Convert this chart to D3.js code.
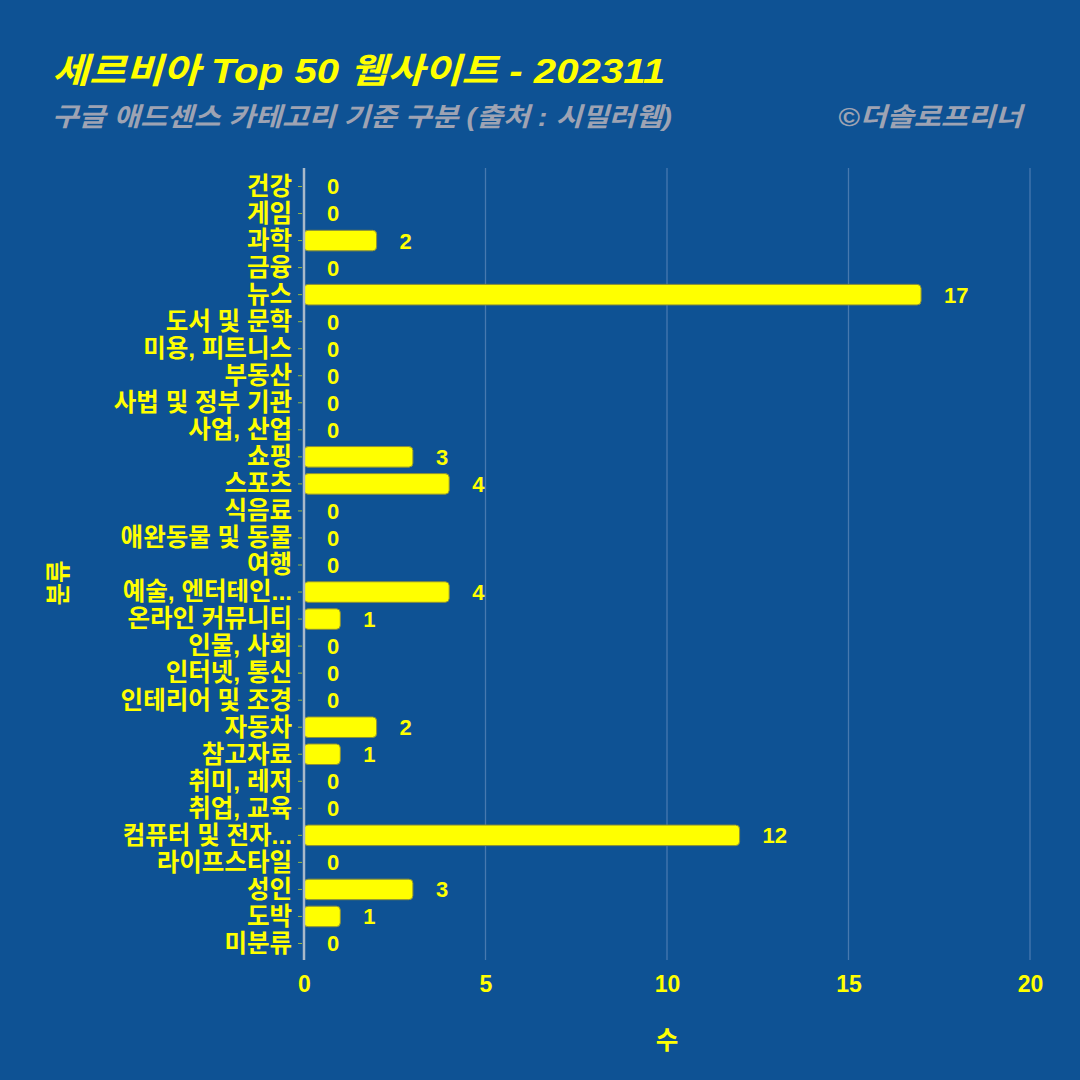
<!DOCTYPE html>
<html><head><meta charset="utf-8">
<script src="https://cdn.jsdelivr.net/npm/d3@7"></script>
<style>
html,body{margin:0;padding:0;background:#0e5294;}
svg{display:block;}
text{font-family:"Liberation Sans","Noto Sans CJK KR",sans-serif;}
</style></head>
<body>
<svg id="c" width="1080" height="1080"></svg>
<script>
const categories = ["건강","게임","과학","금융","뉴스","도서 및 문학","미용, 피트니스","부동산","사법 및 정부 기관","사업, 산업","쇼핑","스포츠","식음료","애완동물 및 동물","여행","예술, 엔터테인...","온라인 커뮤니티","인물, 사회","인터넷, 통신","인테리어 및 조경","자동차","참고자료","취미, 레저","취업, 교육","컴퓨터 및 전자...","라이프스타일","성인","도박","미분류"];
const values = [0,0,2,0,17,0,0,0,0,0,3,4,0,0,0,4,1,0,0,0,2,1,0,0,12,0,3,1,0];
const xTicks = [0,5,10,15,20];
const titleText = "세르비아 Top 50 웹사이트 - 202311";
const subtitleText = "구글 애드센스 카테고리 기준 구분 (출처 : 시밀러웹)";
const creditText = "©더솔로프리너";
const xTitle = "수";
const yTitle = "분류";

(function(){
const svg = d3.select("#c");
const W = 1080, H = 1080;
const YEL = "#ffff00";
svg.append("rect").attr("width",W).attr("height",H).attr("fill","#0e5294");

const pL = 304, pR = 1030, pT = 173, pB = 957;
const x = d3.scaleLinear().domain([0,20]).range([pL,pR]);
const y = d3.scaleBand().domain(categories).range([pT,pB]).paddingInner(0.24).paddingOuter(0.12);

// grid
svg.append("g").selectAll("line").data(xTicks.filter(d=>d>0)).join("line")
  .attr("x1",d=>x(d)).attr("x2",d=>x(d)).attr("y1",pT-5).attr("y2",pB+3)
  .attr("stroke","#5a86b8").attr("stroke-width",1.3).attr("opacity",0.75);

// bars
svg.append("g").selectAll("rect").data(categories).join("rect")
  .attr("x",x(0)).attr("y",d=>y(d)).attr("height",y.bandwidth())
  .attr("width",(d,i)=>Math.max(0,x(values[i])-x(0)))
  .attr("rx",4).attr("ry",4)
  .attr("fill",(d,i)=>values[i]>0?YEL:"none")
  .attr("stroke",(d,i)=>values[i]>0?"#8a8f3a":"none").attr("stroke-width",1);

// axis line
svg.append("line").attr("x1",x(0)).attr("x2",x(0)).attr("y1",pT-5).attr("y2",pB+3)
  .attr("stroke","#a9b9c9").attr("stroke-width",2.5);

// value labels
svg.append("g").selectAll("text").data(categories).join("text")
  .attr("x",(d,i)=>x(values[i])+23).attr("y",d=>y(d)+y.bandwidth()/2)
  .attr("dy","0.36em").attr("fill",YEL).attr("font-size",22).attr("font-weight","bold")
  .text((d,i)=>values[i]);

// y axis labels
const yAxis = d3.axisLeft(y).tickSize(4).tickPadding(6);
const gy = svg.append("g").attr("transform",`translate(${x(0)-2},0)`).call(yAxis);
gy.select(".domain").remove();
gy.selectAll(".tick line").attr("stroke",YEL).attr("opacity",0.6);
gy.selectAll(".tick text").attr("fill",YEL).attr("font-size",24.5).attr("font-weight","bold")
  .attr("font-family",'"Noto Sans CJK KR",sans-serif').attr("dy","0.34em");

// x axis
const xAxis = d3.axisBottom(x).tickValues(xTicks).tickSize(0).tickPadding(0);
const gx = svg.append("g").attr("transform",`translate(0,${pB+3})`).call(xAxis);
gx.select(".domain").remove();
gx.selectAll(".tick text").attr("fill",YEL).attr("font-size",23).attr("font-weight","bold")
  .attr("y",32).attr("dy",0);

// axis titles
svg.append("text").attr("x",x(10)).attr("y",1040).attr("dy","0.36em").attr("text-anchor","middle")
  .attr("font-family",'"Noto Sans CJK KR",sans-serif')
  .attr("fill",YEL).attr("font-size",24.5).attr("font-weight","bold").text(xTitle);
svg.append("text").attr("transform","translate(58,583) rotate(-90)").attr("text-anchor","middle")
  .attr("font-family",'"Noto Sans CJK KR",sans-serif')
  .attr("dy","0.35em").attr("fill",YEL).attr("font-size",24.5).attr("font-weight","bold").text(yTitle);

// titles
svg.append("text").attr("x",52).attr("y",83).attr("fill",YEL).attr("font-size",35)
  .attr("font-weight","bold").attr("font-style","italic")
  .attr("textLength",613).attr("lengthAdjust","spacingAndGlyphs").text(titleText);
svg.append("text").attr("x",52).attr("y",126).attr("fill","#9ea3b3").attr("font-size",26)
  .attr("font-weight","bold").attr("font-style","italic")
  .attr("textLength",620).attr("lengthAdjust","spacingAndGlyphs").text(subtitleText);
svg.append("text").attr("x",838).attr("y",126).attr("fill","#9ea3b3").attr("font-size",26)
  .attr("font-weight","bold").attr("font-style","italic")
  .attr("textLength",184).attr("lengthAdjust","spacingAndGlyphs").text(creditText);
})();
</script>
</body></html>
